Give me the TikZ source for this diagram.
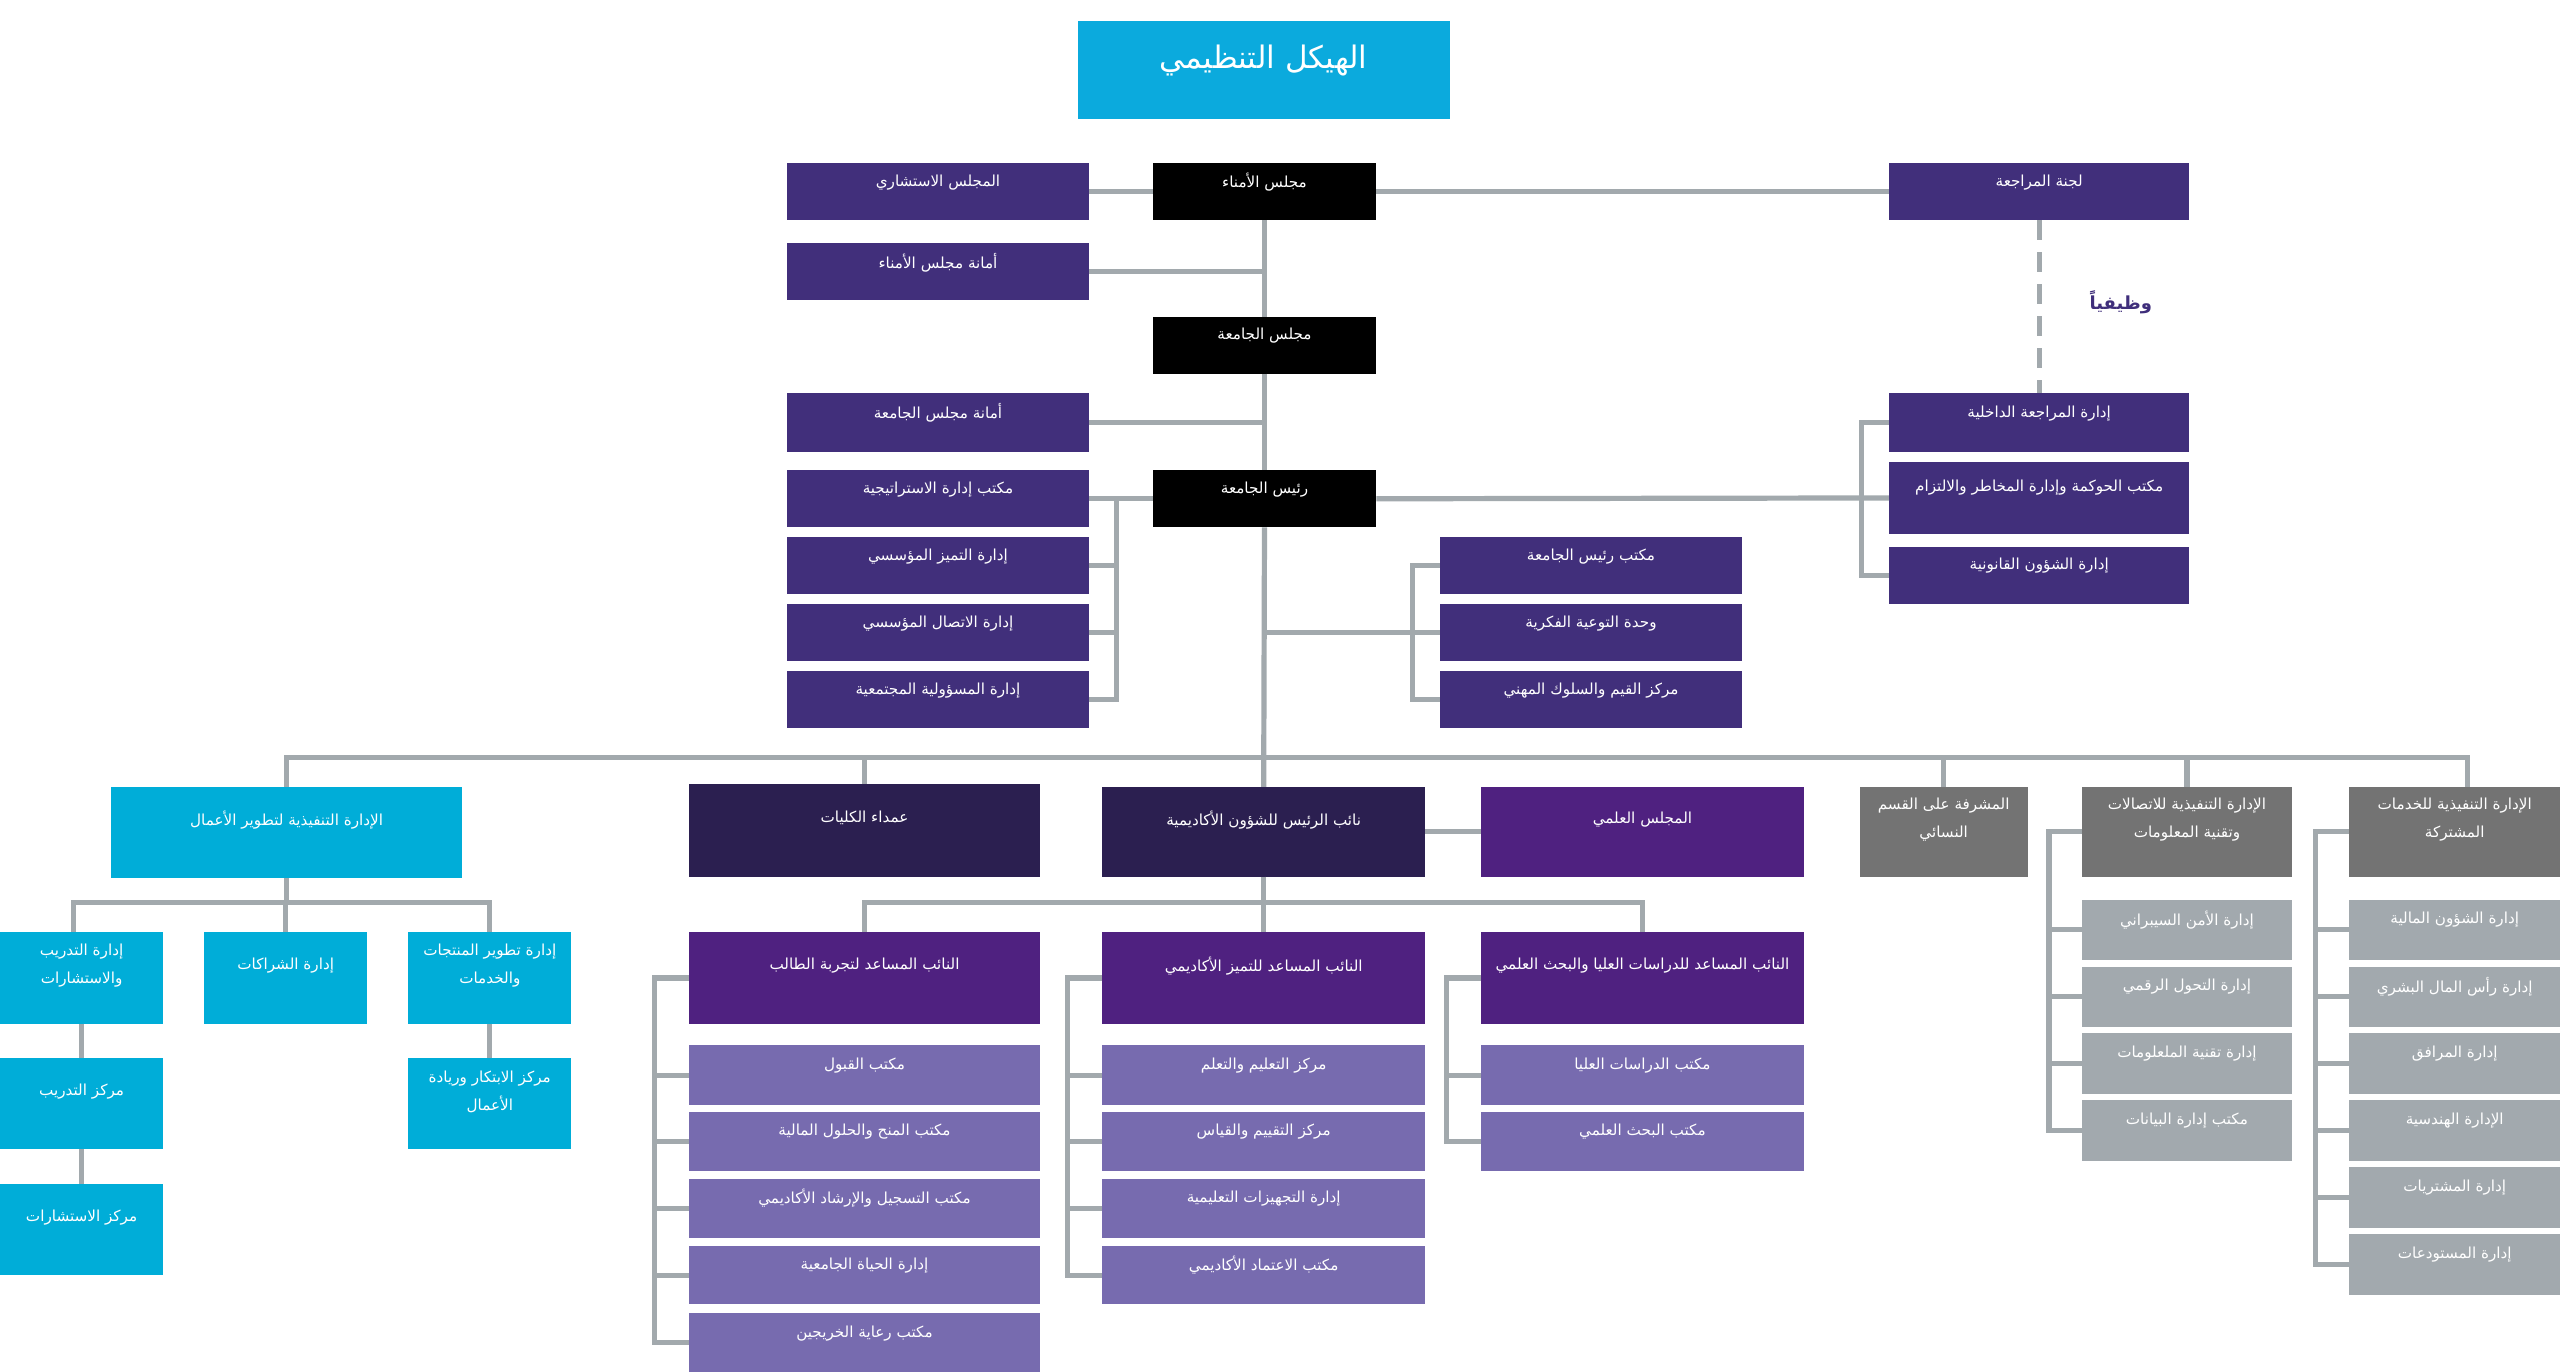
\documentclass[tikz,border=0pt]{standalone}
\usepackage{fontspec}
\usetikzlibrary{calc}
\TeXXeTstate=1
\newfontfamily\arabicfont[Script=Arabic]{DejaVu Sans}
\newcommand\AR[1]{\beginR #1\endR}
\definecolor{titleC}{HTML}{0BAADD}
\definecolor{cyanC}{HTML}{00ADD8}
\definecolor{topP}{HTML}{412F7B}
\definecolor{navyC}{HTML}{2B1F50}
\definecolor{purpC}{HTML}{4F2180}
\definecolor{lpurpC}{HTML}{776BAF}
\definecolor{dgrayC}{HTML}{737373}
\definecolor{lgrayC}{HTML}{A2A9AE}
\definecolor{connC}{HTML}{A2A9AD}
\definecolor{funcC}{HTML}{3F2E7B}
\tikzset{
  box/.style={draw=none,inner sep=0pt,outer sep=0pt,rectangle},
  tp/.style={fill=topP},
  blk/.style={fill=black},
  nv/.style={fill=navyC},
  pp/.style={fill=purpC},
  lp/.style={fill=lpurpC},
  cy/.style={fill=cyanC},
  dg/.style={fill=dgrayC},
  lg/.style={fill=lgrayC},
  ttl/.style={fill=titleC},
  txt/.style={text=white,align=center,inner sep=0pt,font=\arabicfont\fontsize{7.6}{14}\selectfont},
  conn/.style={draw=connC,line width=2.6pt,line join=miter},
}
\newcommand\bx[7]{%
  \node[box,#6,minimum width={(#4-(#2))*0.8163pt},minimum height={(#5-(#3))*0.8163pt},anchor=north west] (#1) at (#2,#3) {};
  \node[txt] (#1t) at ($(#1.north)+(0,{0.42*(#5-(#3))-3})$) {#7};
}
\begin{document}
\begin{tikzpicture}[x=0.8163pt,y=-0.8163pt]
\useasboundingbox (0,0) rectangle (1568,840.35);
\fill[white] (0,0) rectangle (1568,840.35);
% title
\node[box,ttl,minimum width={228*0.8163pt},minimum height={60*0.8163pt},anchor=north west] (title) at (660,13) {};
\node[txt,font=\arabicfont\fontsize{15.5}{20}\selectfont] (titlet) at ($(title.north)+(0,24)$) {\AR{الهيكل التنظيمي}};
% top section
\bx{adv}{482}{100}{667}{135}{tp}{\AR{المجلس الاستشاري}}
\bx{trust}{706}{100}{843}{135}{blk}{\AR{مجلس الأمناء}}
\bx{audit}{1157}{100}{1341}{135}{tp}{\AR{لجنة المراجعة}}
\bx{sec1}{482}{149}{667}{184}{tp}{\AR{أمانة مجلس الأمناء}}
\bx{council}{706}{194}{843}{229}{blk}{\AR{مجلس الجامعة}}
\bx{sec2}{482}{241}{667}{277}{tp}{\AR{أمانة مجلس الجامعة}}
\bx{strat}{482}{288}{667}{323}{tp}{\AR{مكتب إدارة الاستراتيجية}}
\bx{pres}{706}{288}{843}{323}{blk}{\AR{رئيس الجامعة}}
\bx{excel}{482}{329}{667}{364}{tp}{\AR{إدارة التميز المؤسسي}}
\bx{comm}{482}{370}{667}{405}{tp}{\AR{إدارة الاتصال المؤسسي}}
\bx{csr}{482}{411}{667}{446}{tp}{\AR{إدارة المسؤولية المجتمعية}}
\bx{office}{882}{329}{1067}{364}{tp}{\AR{مكتب رئيس الجامعة}}
\bx{awr}{882}{370}{1067}{405}{tp}{\AR{وحدة التوعية الفكرية}}
\bx{values}{882}{411}{1067}{446}{tp}{\AR{مركز القيم والسلوك المهني}}
\bx{intaudit}{1157}{241}{1341}{277}{tp}{\AR{إدارة المراجعة الداخلية}}
\bx{gov}{1157}{283}{1341}{327}{tp}{\AR{مكتب الحوكمة وإدارة المخاطر والالتزام}}
\bx{legal}{1157}{335}{1341}{370}{tp}{\AR{إدارة الشؤون القانونية}}
\node[text=funcC,inner sep=0pt,font=\arabicfont\bfseries\fontsize{9}{11}\selectfont] (func) at (1299,185) {\AR{وظيفياً}};
% row 2
\bx{bizd}{68}{482}{283}{538}{cy}{\AR{الإدارة التنفيذية لتطوير الأعمال}}
\bx{deans}{422}{480}{637}{537}{nv}{\AR{عمداء الكليات}}
\bx{vp}{675}{482}{873}{537}{nv}{\AR{نائب الرئيس للشؤون الأكاديمية}}
\bx{sci}{907}{482}{1105}{537}{pp}{\AR{المجلس العلمي}}
\bx{women}{1139}{482}{1242}{537}{dg}{\AR{المشرفة على القسم}\\\AR{النسائي}}
\bx{it}{1275}{482}{1404}{537}{dg}{\AR{الإدارة التنفيذية للاتصالات}\\\AR{وتقنية المعلومات}}
\bx{shared}{1439}{482}{1568}{537}{dg}{\AR{الإدارة التنفيذية للخدمات}\\\AR{المشتركة}}
% cyan subtree
\bx{train}{0}{571}{100}{627}{cy}{\AR{إدارة التدريب}\\\AR{والاستشارات}}
\bx{part}{125}{571}{225}{627}{cy}{\AR{إدارة الشراكات}}
\bx{prod}{250}{571}{350}{627}{cy}{\AR{إدارة تطوير المنتجات}\\\AR{والخدمات}}
\bx{trc}{0}{648}{100}{704}{cy}{\AR{مركز التدريب}}
\bx{innov}{250}{648}{350}{704}{cy}{\AR{مركز الابتكار وريادة}\\\AR{الأعمال}}
\bx{cons}{0}{725}{100}{781}{cy}{\AR{مركز الاستشارات}}
% academic
\bx{stu}{422}{571}{637}{627}{pp}{\AR{النائب المساعد لتجربة الطالب}}
\bx{aexc}{675}{571}{873}{627}{pp}{\AR{النائب المساعد للتميز الأكاديمي}}
\bx{res}{907}{571}{1105}{627}{pp}{\AR{النائب المساعد للدراسات العليا والبحث العلمي}}
\bx{adm}{422}{640}{637}{677}{lp}{\AR{مكتب القبول}}
\bx{grant}{422}{681}{637}{717}{lp}{\AR{مكتب المنح والحلول المالية}}
\bx{reg}{422}{722}{637}{758}{lp}{\AR{مكتب التسجيل والإرشاد الأكاديمي}}
\bx{life}{422}{763}{637}{799}{lp}{\AR{إدارة الحياة الجامعية}}
\bx{alum}{422}{804}{637}{841}{lp}{\AR{مكتب رعاية الخريجين}}
\bx{tl}{675}{640}{873}{677}{lp}{\AR{مركز التعليم والتعلم}}
\bx{assess}{675}{681}{873}{717}{lp}{\AR{مركز التقييم والقياس}}
\bx{equip}{675}{722}{873}{758}{lp}{\AR{إدارة التجهيزات التعليمية}}
\bx{accr}{675}{763}{873}{799}{lp}{\AR{مكتب الاعتماد الأكاديمي}}
\bx{grad}{907}{640}{1105}{677}{lp}{\AR{مكتب الدراسات العليا}}
\bx{sres}{907}{681}{1105}{717}{lp}{\AR{مكتب البحث العلمي}}
% IT
\bx{cyber}{1275}{551}{1404}{588}{lg}{\AR{إدارة الأمن السيبراني}}
\bx{digi}{1275}{592}{1404}{629}{lg}{\AR{إدارة التحول الرقمي}}
\bx{itd}{1275}{633}{1404}{670}{lg}{\AR{إدارة تقنية الملعلومات}}
\bx{data}{1275}{674}{1404}{711}{lg}{\AR{مكتب إدارة البيانات}}
% shared
\bx{fin}{1439}{551}{1568}{588}{lg}{\AR{إدارة الشؤون المالية}}
\bx{hr}{1439}{592}{1568}{629}{lg}{\AR{إدارة رأس المال البشري}}
\bx{fac}{1439}{633}{1568}{670}{lg}{\AR{إدارة المرافق}}
\bx{eng}{1439}{674}{1568}{711}{lg}{\AR{الإدارة الهندسية}}
\bx{proc}{1439}{715}{1568}{752}{lg}{\AR{إدارة المشتريات}}
\bx{store}{1439}{756}{1568}{793}{lg}{\AR{إدارة المستودعات}}
% ---------- connectors ----------
\draw[conn] (adv.east) -- (trust.west);
\draw[conn] (trust.east) -- (audit.west);
\draw[conn] (trust.south) -- (council.north);
\draw[conn] (council.south) -- (pres.north);
\draw[conn] (sec1.east) -- (sec1.east -| trust.south);
\draw[conn] (sec2.east) -- (sec2.east -| council.south);
\draw[conn] (pres.south) -- (vp.north);
\draw[conn,dash pattern=on 10pt off 6pt] (audit.south) -- (intaudit.north);
% president left group
\coordinate (lbx) at (684,0);
\draw[conn] (pres.west) -- (strat.east);
\draw[conn] (strat.east -| lbx) |- (csr.east);
\draw[conn] (excel.east) -- (excel.east -| lbx);
\draw[conn] (comm.east) -- (comm.east -| lbx);
% president right group
\coordinate (rbx) at (1140,0);
\draw[conn] (pres.east) -- (gov.west);
\draw[conn] (intaudit.west) -- (intaudit.west -| rbx) -- (legal.west -| rbx) -- (legal.west);
% office group
\coordinate (obx) at (865,0);
\draw[conn] (pres.south |- awr.west) -- (awr.west);
\draw[conn] (office.west) -- (office.west -| obx) -- (values.west -| obx) -- (values.west);
% main bus
\coordinate (busy) at (0,464);
\coordinate (shdrop) at ($(shared.north)+(8,0)$);
\draw[conn] (bizd.north) |- (shdrop |- busy) -- (shdrop);
\draw[conn] (deans.north) -- (deans.north |- busy);
\draw[conn] (women.north) -- (women.north |- busy);
\draw[conn] (it.north) -- (it.north |- busy);
\draw[conn] (vp.east) -- (sci.west);
% academic
\coordinate (abus) at (0,553);
\draw[conn] (stu.north) |- (res.north |- abus) -- (res.north);
\draw[conn] (vp.south) -- (aexc.north);
\coordinate (sbx) at (401,0);
\draw[conn] (stu.west) -- (stu.west -| sbx) -- (alum.west -| sbx) -- (alum.west);
\foreach \n in {adm,grant,reg,life}{\draw[conn] (\n.west) -- (\n.west -| sbx);}
\coordinate (ebx) at (654,0);
\draw[conn] (aexc.west) -- (aexc.west -| ebx) -- (accr.west -| ebx) -- (accr.west);
\foreach \n in {tl,assess,equip}{\draw[conn] (\n.west) -- (\n.west -| ebx);}
\coordinate (gbx) at (886,0);
\draw[conn] (res.west) -- (res.west -| gbx) -- (sres.west -| gbx) -- (sres.west);
\draw[conn] (grad.west) -- (grad.west -| gbx);
% IT
\coordinate (ibx) at (1255,0);
\draw[conn] (it.west) -- (it.west -| ibx) -- (data.west -| ibx) -- (data.west);
\foreach \n in {cyber,digi,itd}{\draw[conn] (\n.west) -- (\n.west -| ibx);}
% shared
\coordinate (sgx) at (1418,0);
\draw[conn] (shared.west) -- (shared.west -| sgx) -- (store.west -| sgx) -- (store.west);
\foreach \n in {fin,hr,fac,eng,proc}{\draw[conn] (\n.west) -- (\n.west -| sgx);}
% cyan
\coordinate (cbus) at (0,553);
\coordinate (trdrop) at ($(train.north)+(-5,0)$);
\draw[conn] (bizd.south) -- (bizd.south |- cbus);
\draw[conn] (trdrop) |- (prod.north |- cbus) -- (prod.north);
\draw[conn] (part.north) -- (part.north |- cbus);
\draw[conn] (train.south) -- (trc.north);
\draw[conn] (trc.south) -- (cons.north);
\draw[conn] (prod.south) -- (innov.north);
\end{tikzpicture}
\end{document}
